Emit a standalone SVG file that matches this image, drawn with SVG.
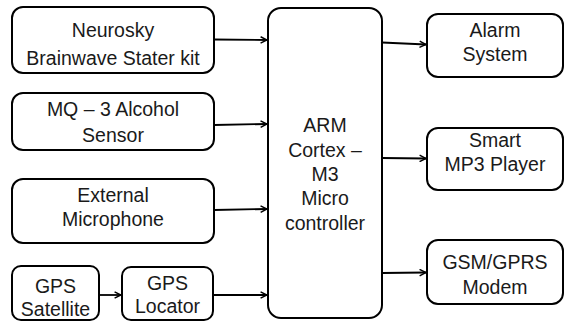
<svg xmlns="http://www.w3.org/2000/svg" width="566" height="322" viewBox="0 0 566 322">
<defs>
<style>
.box{fill:#fff;stroke:#000;stroke-width:2}
.t{font-family:"Liberation Sans",Arial,sans-serif;font-size:19.5px;fill:#1a1a1a;text-anchor:middle}
.c{stroke:#000;stroke-width:1.8;fill:none}
</style>
<marker id="ah" viewBox="0 0 10 10" refX="9" refY="5" markerWidth="8" markerHeight="8" markerUnits="userSpaceOnUse" orient="auto">
<path d="M1,1 L9,5 L1,9" fill="none" stroke="#000" stroke-width="1.8"/>
</marker>
</defs>
<rect width="566" height="322" fill="#fff"/>
<g id="neurosky"><rect class="box" x="12" y="7" width="202" height="66" rx="11"/>
<text class="t" x="113" y="37">Neurosky</text><text class="t" x="113" y="65">Brainwave Stater kit</text></g>
<g id="mq3"><rect class="box" x="12" y="93" width="202" height="57" rx="11"/>
<text class="t" x="113" y="116">MQ – 3 Alcohol</text><text class="t" x="113" y="142">Sensor</text></g>
<g id="mic"><rect class="box" x="12" y="179" width="202" height="64" rx="11"/>
<text class="t" x="113" y="202">External</text><text class="t" x="113" y="226">Microphone</text></g>
<g id="gpssat"><rect class="box" x="12" y="266" width="87" height="54" rx="9"/>
<text class="t" x="55.5" y="293">GPS</text><text class="t" x="55.5" y="316">Satellite</text></g>
<g id="gpsloc"><rect class="box" x="122" y="267" width="91" height="53" rx="9"/>
<text class="t" x="167.5" y="290">GPS</text><text class="t" x="167.5" y="313">Locator</text></g>
<g id="arm"><rect class="box" x="268" y="8" width="114" height="310" rx="13"/>
<text class="t" x="325" y="132">ARM</text><text class="t" x="325" y="157">Cortex –</text><text class="t" x="325" y="181">M3</text><text class="t" x="325" y="205">Micro</text><text class="t" x="325" y="230">controller</text></g>
<g id="alarm"><rect class="box" x="427" y="14" width="136" height="63" rx="11"/>
<text class="t" x="495" y="37">Alarm</text><text class="t" x="495" y="61">System</text></g>
<g id="mp3"><rect class="box" x="427" y="128" width="136" height="62" rx="11"/>
<text class="t" x="495" y="147">Smart</text><text class="t" x="495" y="171">MP3 Player</text></g>
<g id="gsm"><rect class="box" x="427" y="240" width="136" height="64" rx="11"/>
<text class="t" x="495" y="269">GSM/GPRS</text><text class="t" x="495" y="294">Modem</text></g>
<g id="connectors">
<line class="c" x1="214" y1="39.5" x2="267" y2="40" marker-end="url(#ah)"/>
<line class="c" x1="214" y1="125" x2="267" y2="124" marker-end="url(#ah)"/>
<line class="c" x1="214" y1="210" x2="267" y2="209" marker-end="url(#ah)"/>
<line class="c" x1="99" y1="295" x2="121" y2="295" marker-end="url(#ah)"/>
<line class="c" x1="213" y1="295" x2="267" y2="295" marker-end="url(#ah)"/>
<line class="c" x1="382" y1="42.5" x2="426" y2="44.5" marker-end="url(#ah)"/>
<line class="c" x1="382" y1="158" x2="426" y2="158.5" marker-end="url(#ah)"/>
<line class="c" x1="382" y1="273" x2="426" y2="272.5" marker-end="url(#ah)"/>
</g>
</svg>
